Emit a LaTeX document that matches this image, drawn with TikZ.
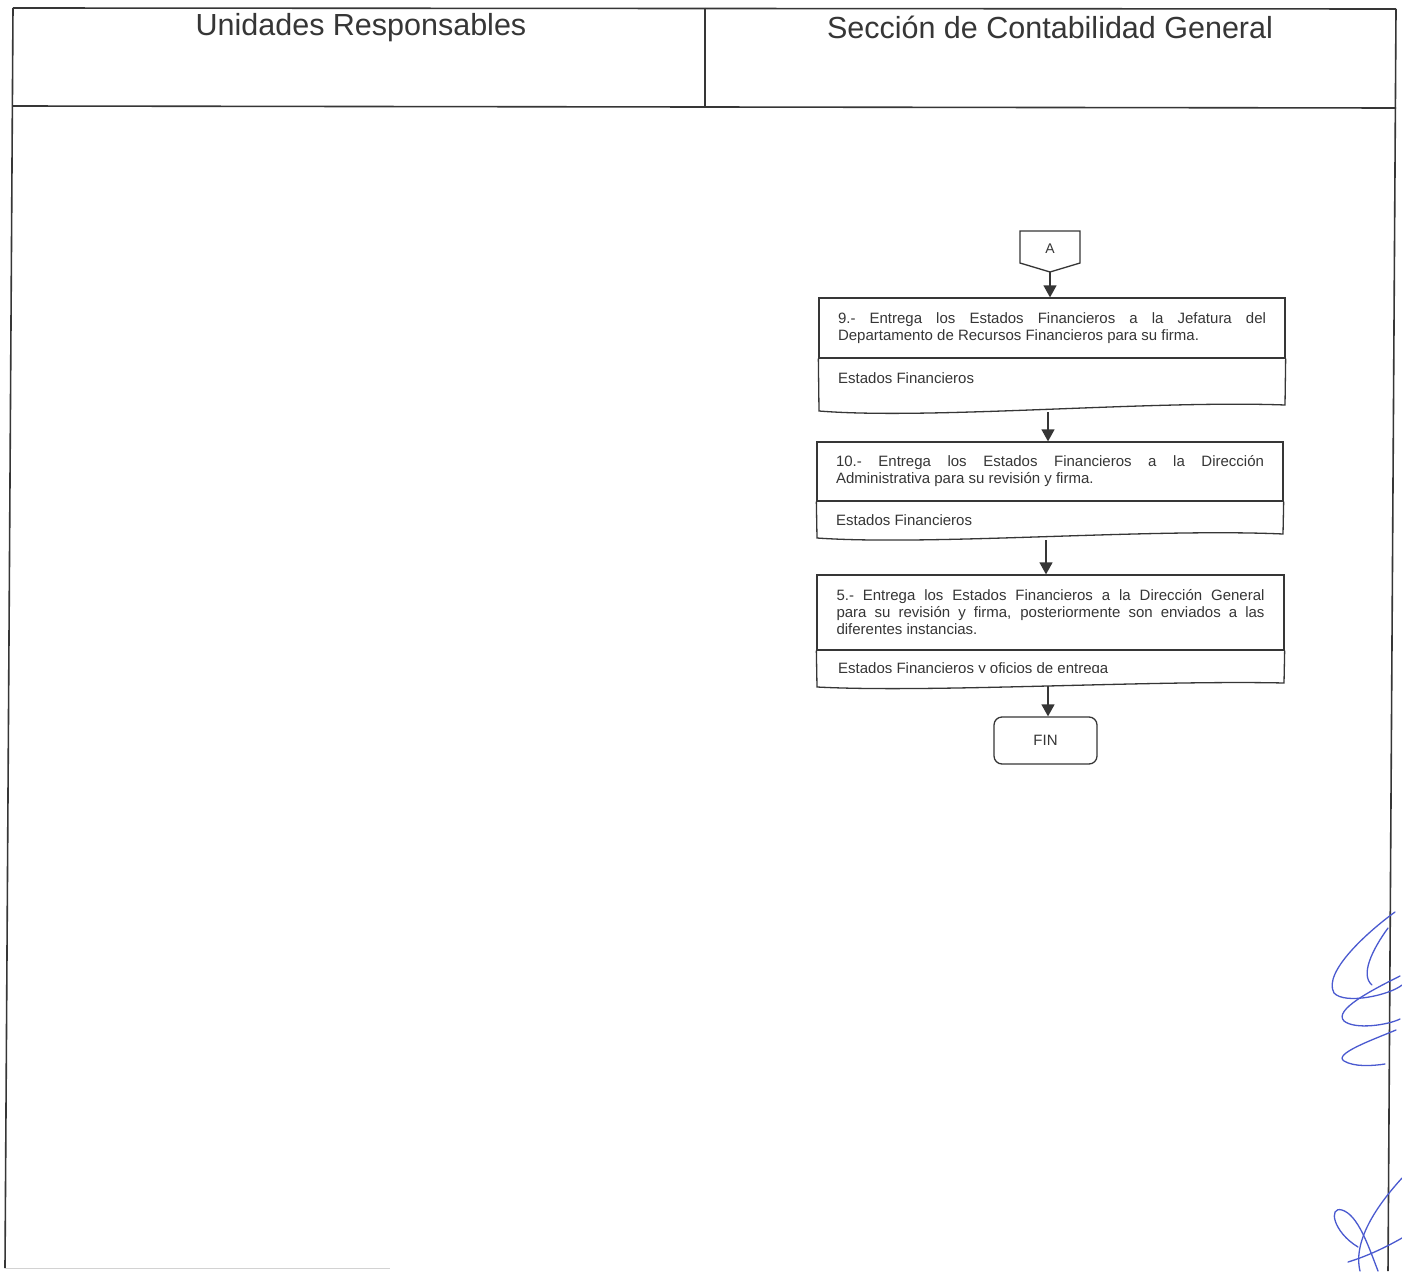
\documentclass[tikz,border=0pt]{standalone}
\usepackage{fontspec}
\setmainfont{Liberation Sans}
\usetikzlibrary{arrows.meta}
\definecolor{ink}{HTML}{363636}
\definecolor{pen}{HTML}{4A5AD0}
\begin{document}
\begin{tikzpicture}[x=1pt,y=-1pt,
  frame/.style={draw=ink,line width=1.6pt},
  lanehead/.style={font=\fontsize{30.5}{34}\selectfont,text=ink,anchor=base,inner sep=0pt},
  stepbox/.style={draw=ink,line width=1.3pt,inner sep=0pt,text width=428pt,align=justify,
    font=\fontsize{15}{17}\selectfont,text=ink},
  boxline/.style={draw=ink,line width=1.3pt},
  doctext/.style={anchor=base west,inner sep=0pt,font=\fontsize{15}{17}\selectfont,text=ink},
  conn/.style={draw=ink,line width=1.3pt,line join=miter},
  flow/.style={draw=ink,line width=1.4pt,-{Triangle[width=13pt,length=12pt]}},
  endbox/.style={draw=ink,line width=1.3pt,rounded corners=8pt,minimum width=103pt,
    minimum height=47pt,font=\fontsize{15}{17}\selectfont,text=ink},
  sign/.style={draw=pen,line width=1.3pt,line cap=round,line join=round}
]
\useasboundingbox[fill=white] (0,0) rectangle (1402,1271);
\begin{scope}
\clip (0,0) rectangle (1402,1271);

% swimlane frame
\draw[frame] (13,8) -- (1396,9);
\draw[frame] (13,8) -- (5,1268);
\draw[frame] (1396,9) -- (1388,1271);
\draw[frame] (13,106) -- (1396,108);
\draw[frame] (705,8) -- (705,107);
\draw[gray!35,line width=1pt] (5,1268) -- (390,1268);

% lane titles
\node[lanehead] (h1) at (361,36) {Unidades Responsables};
\node[lanehead] (h2) at (1050,39) {Sección de Contabilidad General};

% off-page connector A
\node[inner sep=0pt,font=\fontsize{14}{16}\selectfont,text=ink] (conA) at (1050,249) {A};
\draw[conn] (1020,231) -- (1080,231) -- (1080,263) -- (1050,272) -- (1020,263) -- cycle;
\coordinate (Atip) at (1050,272);

% step 9
\node[stepbox,minimum width=466pt,minimum height=60pt] (s9) at (1052,328)
  {9.- Entrega los Estados Financieros a la Jefatura del\linebreak
   Departamento de Recursos Financieros para su firma.};
\draw[boxline] (s9.south west) -- (819,411) .. controls (930,420) and (1150,400) .. (1285,405) -- (s9.south east);
\node[doctext] (d9) at (838,383) {Estados Financieros};
\coordinate (w9) at (1048,412);

% step 10
\node[stepbox,minimum width=466pt,minimum height=59pt] (s10) at (1050,471.5)
  {10.- Entrega los Estados Financieros a la Dirección\linebreak
   Administrativa para su revisión y firma.};
\draw[boxline] (s10.south west) -- (817,538) .. controls (930,546) and (1150,528) .. (1283,534) -- (s10.south east);
\node[doctext] (d10) at (836,525) {Estados Financieros};
\coordinate (w10) at (1046,540);

% step 5
\node[stepbox,minimum width=467pt,minimum height=75pt] (s5) at (1050.5,612.5)
  {5.- Entrega los Estados Financieros a la Dirección General\linebreak
   para su revisión y firma, posteriormente son enviados a las\linebreak
   diferentes instancias.};
\draw[boxline] (s5.south west) -- (817,687) .. controls (930,693) and (1150,680) .. (1284,683) -- (s5.south east);
\begin{scope}
  \clip (817,650) rectangle (1284,672.8);
  \node[doctext] (d5) at (838,673) {Estados Financieros y oficios de entrega};
\end{scope}
\coordinate (w5) at (1048,686);

% end
\node[endbox] (fin) at (1045.5,740.5) {FIN};

% flow
\draw[flow] (Atip) -- (Atip |- s9.north);
\draw[flow] (w9) -- (w9 |- s10.north);
\draw[flow] (w10) -- (w10 |- s5.north);
\draw[flow] (w5) -- (w5 |- fin.north);

% initials in the margin
\draw[sign] (1395,912) .. controls (1370,930) and (1322,972) .. (1334,993)
  .. controls (1345,1005) and (1390,995) .. (1402,985);
\draw[sign] (1388,928) .. controls (1372,950) and (1360,975) .. (1372,985);
\draw[sign] (1400,976) .. controls (1372,990) and (1333,1010) .. (1344,1021)
  .. controls (1355,1030) and (1388,1025) .. (1400,1019);
\draw[sign] (1396,1030) .. controls (1372,1040) and (1333,1054) .. (1344,1061)
  .. controls (1354,1067) and (1372,1066) .. (1385,1064);
\draw[sign] (1402,1178) .. controls (1382,1200) and (1352,1238) .. (1360,1271);
\draw[sign] (1358,1247) .. controls (1333,1232) and (1328,1206) .. (1342,1210)
  .. controls (1358,1215) and (1368,1245) .. (1378,1271);
\draw[sign] (1348,1262) .. controls (1368,1256) and (1388,1246) .. (1402,1238);
\end{scope}
\end{tikzpicture}
\end{document}
